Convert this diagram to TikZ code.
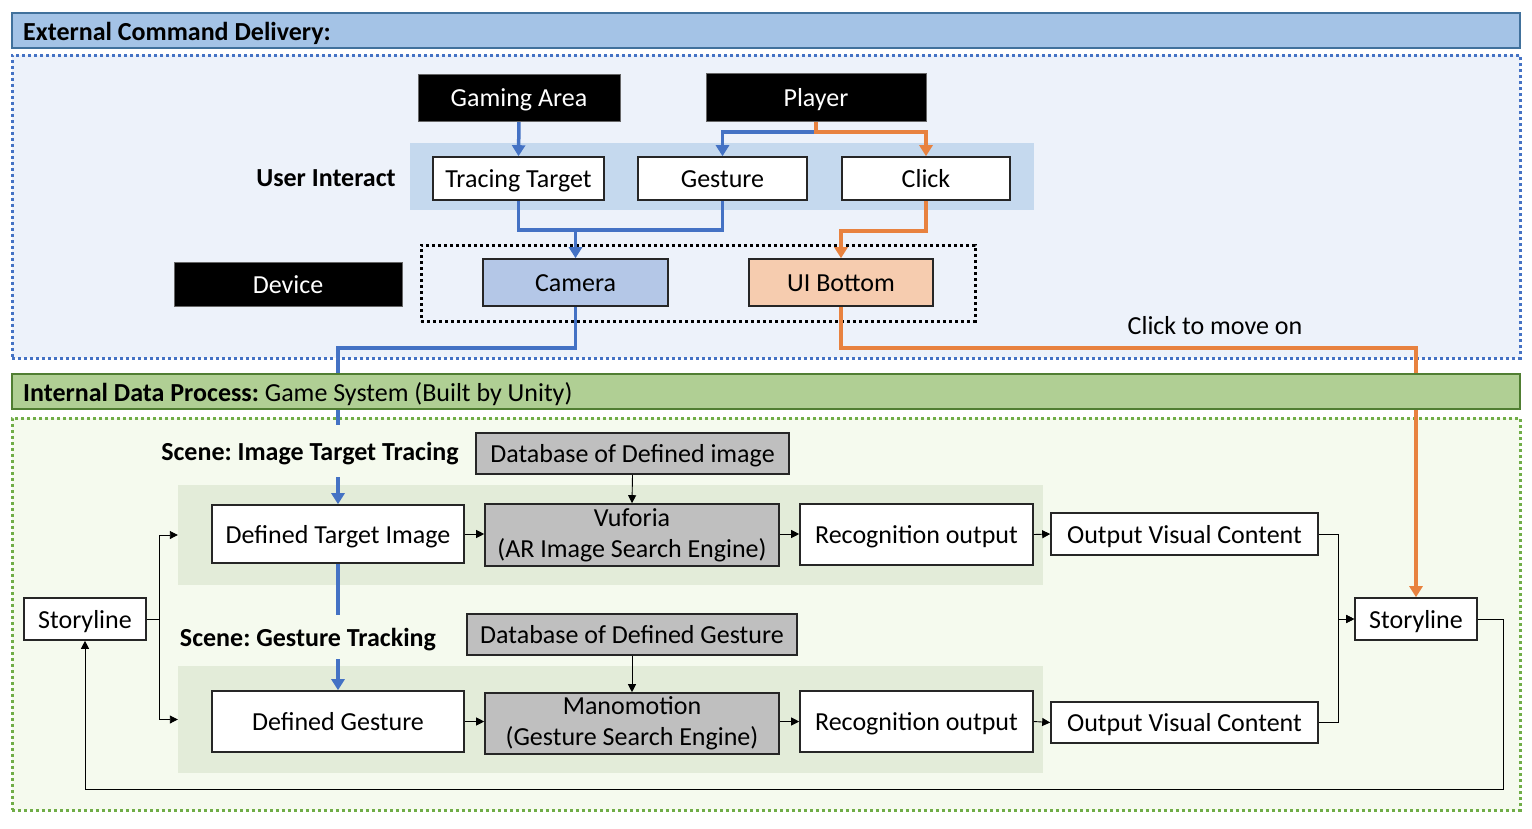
\documentclass[tikz,border=0pt]{standalone}
\usepackage{fontspec}
\setmainfont{Carlito}
\usetikzlibrary{arrows.meta,calc}
\pgfdeclarelayer{bg}
\pgfdeclarelayer{lines}
\pgfsetlayers{bg,lines,main}
\definecolor{bannerblue}{HTML}{A4C3E6}
\definecolor{bannerblueline}{HTML}{41719C}
\definecolor{regionblue}{HTML}{EDF2FA}
\definecolor{dotblue}{HTML}{4472C4}
\definecolor{uiband}{HTML}{C5D9EE}
\definecolor{camfill}{HTML}{B4C7E7}
\definecolor{uifill}{HTML}{F6CCAF}
\definecolor{bannergreen}{HTML}{B0CF94}
\definecolor{bannergreenline}{HTML}{507E32}
\definecolor{regiongreen}{HTML}{F5FAEE}
\definecolor{dotgreen}{HTML}{70AD47}
\definecolor{sceneband}{HTML}{E3ECD9}
\definecolor{graybox}{HTML}{BFBFBF}
\definecolor{boxline}{HTML}{262626}
\definecolor{lineblue}{HTML}{4472C4}
\definecolor{lineorange}{HTML}{E8823F}
\tikzset{
  every node/.style={font=\fontsize{26}{31}\selectfont\frenchspacing, inner sep=0pt},
  oneline/.style={text height=19pt, text depth=1pt},
  mbox/.style={draw=boxline, line width=1.6pt, fill=graybox, align=center},
  wbox/.style={draw=boxline, line width=1.6pt, fill=white, oneline},
  gbox/.style={wbox, fill=graybox},
  kbox/.style={fill=black, draw=black!60, line width=0.6pt, text=white, oneline},
  banner/.style={line width=1.2pt},
  region/.style={line width=3pt, dash pattern=on 3pt off 3pt},
  bluepath/.style={draw=lineblue, line width=3.5pt},
  orangepath/.style={draw=lineorange, line width=3.5pt},
  bluearrow/.style={bluepath, -{Triangle[width=13pt,length=11pt]}},
  orangearrow/.style={orangepath, -{Triangle[width=13pt,length=11pt]}},
  blkarrow/.style={draw=black, line width=0.9pt, -{Triangle[width=8pt,length=8pt]}},
}
\begin{document}
\begin{tikzpicture}[x=1pt, y=-1pt]
\useasboundingbox (0,0) rectangle (1532,828);

% ---------- backgrounds ----------
\begin{pgfonlayer}{bg}
\node[region, draw=dotblue, fill=regionblue, minimum width=1508pt, minimum height=303pt] (extregion) at (766,206.5) {};
\node[fill=uiband, minimum width=624pt, minimum height=67pt] (uib) at (722,176.5) {};
\node[region, draw=black, minimum width=554pt, minimum height=76pt] (devbox) at (698,283) {};
\node[region, draw=dotgreen, fill=regiongreen, minimum width=1508pt, minimum height=392pt] (intregion) at (766,614) {};
\node[fill=sceneband, minimum width=865pt, minimum height=100pt] (band1) at (610.5,535) {};
\node[fill=sceneband, minimum width=865pt, minimum height=107pt] (band2) at (610.5,719.5) {};
\end{pgfonlayer}

% ---------- banners ----------
\node[banner, draw=bannerblueline, fill=bannerblue, minimum width=1508pt, minimum height=35pt] (extbanner) at (766,30.5) {};
\node[anchor=west, oneline] (exttxt) at (23,31) {\bfseries External Command Delivery:};
\node[banner, draw=bannergreenline, fill=bannergreen, minimum width=1508pt, minimum height=35pt] (intbanner) at (766,391.5) {};
\node[anchor=west, oneline] (inttxt) at (23,392) {\textbf{Internal Data Process:} Game System (Built by Unity)};

% ---------- top nodes ----------
\node[kbox, minimum width=202pt, minimum height=47pt] (ga) at (519,97.5) {Gaming Area};
\node[kbox, minimum width=220pt, minimum height=48pt] (pl) at (816,97) {Player};
\node[oneline] (uitxt) at (326,177) {\bfseries User Interact};
\node[wbox, minimum width=171pt, minimum height=43pt] (tt) at (518.5,178.5) {Tracing Target};
\node[wbox, minimum width=169pt, minimum height=43pt] (ge) at (722.5,178.5) {Gesture};
\node[wbox, minimum width=168pt, minimum height=43pt] (cl) at (926,178.5) {Click};
\node[kbox, minimum width=228pt, minimum height=44pt] (dev) at (288,284) {Device};
\node[wbox, fill=camfill, minimum width=185pt, minimum height=47pt] (cam) at (575.5,282.5) {Camera};
\node[wbox, fill=uifill, minimum width=184pt, minimum height=47pt] (ui) at (841,282.5) {UI Bottom};
\node[oneline] (clickmove) at (1215,325) {Click to move on};

% ---------- internal nodes ----------
\node[fill=regiongreen, oneline, inner xsep=3pt, inner ysep=16pt] (scene1) at (310,451) {\bfseries Scene: Image Target Tracing};
\node[gbox, minimum width=313pt, minimum height=41pt] (dbi) at (632.5,453.5) {Database of Defined image};
\node[wbox, minimum width=252pt, minimum height=58pt] (dti) at (338,534) {Defined Target Image};
\node[mbox, minimum width=294pt, minimum height=62pt] (vu) at (632,535) {Vuforia\\(AR Image Search Engine)};
\node[wbox, minimum width=233pt, minimum height=61pt] (rec1) at (916.5,534.5) {Recognition output};
\node[wbox, minimum width=267pt, minimum height=42pt] (ovc1) at (1184.5,534) {Output Visual Content};
\node[wbox, minimum width=122pt, minimum height=42pt] (sll) at (85,619) {Storyline};
\node[wbox, minimum width=122pt, minimum height=42pt] (slr) at (1416,619) {Storyline};
\node[fill=regiongreen, oneline, inner xsep=3pt, inner ysep=12pt] (scene2) at (308,637) {\bfseries Scene: Gesture Tracking};
\node[gbox, minimum width=330pt, minimum height=41pt] (dbg) at (632,634.5) {Database of Defined Gesture};
\node[wbox, minimum width=252pt, minimum height=61pt] (dg) at (338,721.5) {Defined Gesture};
\node[mbox, minimum width=294pt, minimum height=61pt] (mano) at (632,723.5) {Manomotion\\(Gesture Search Engine)};
\node[wbox, minimum width=233pt, minimum height=61pt] (rec2) at (916.5,721.5) {Recognition output};
\node[wbox, minimum width=267pt, minimum height=41pt] (ovc2) at (1184.5,722.5) {Output Visual Content};

\coordinate (pj) at (816,132);
\coordinate (cj) at (575.5,230);
\coordinate (fb) at (1503,789);

% ---------- thick connectors ----------
\begin{pgfonlayer}{lines}
\draw[bluearrow] (ga.south) -- (tt.north);
\draw[bluearrow] (pl.south) -- (pj) -| (ge.north);
\draw[orangearrow] (pl.south) -- (pj) -| (cl.north);
\draw[bluepath] (tt.south) |- (cj) -| (ge.south);
\draw[bluearrow] (cj) -- (cam.north);
\draw[orangearrow] (cl.south) -- ++(0,30) -| (ui.north);
\draw[bluearrow] (cam.south) -- ++(0,41) -| (dti.north);
\draw[bluearrow] (dti.south) -- (dg.north);
\draw[orangearrow] (ui.south) -- ++(0,41) -| (slr.north);
\end{pgfonlayer}

% ---------- thin connectors ----------
\draw[blkarrow] (dbi.south) -- (vu.north);
\draw[blkarrow] (dti.east) -- (vu.west |- dti.east);
\draw[blkarrow] (vu.east |- dti.east) -- (rec1.west |- dti.east);
\draw[blkarrow] (rec1.east) -- (ovc1.west);
\draw[blkarrow] (dbg.south) -- (mano.north);
\draw[blkarrow] (dg.east) -- (mano.west |- dg.east);
\draw[blkarrow] (mano.east |- dg.east) -- (rec2.west |- dg.east);
\draw[blkarrow] (rec2.east) -- (ovc2.west);
\draw[blkarrow] (sll.east) -- ++(13,0) |- (band1.west);
\draw[blkarrow] (sll.east) -- ++(13,0) |- (band2.west);
\draw[blkarrow] (ovc1.east) -- ++(20,0) |- (slr.west);
\draw[blkarrow] (ovc2.east) -- ++(20,0) |- (slr.west);
\draw[blkarrow] (slr.east) -| (fb) -| (sll.south);
\end{tikzpicture}
\end{document}
